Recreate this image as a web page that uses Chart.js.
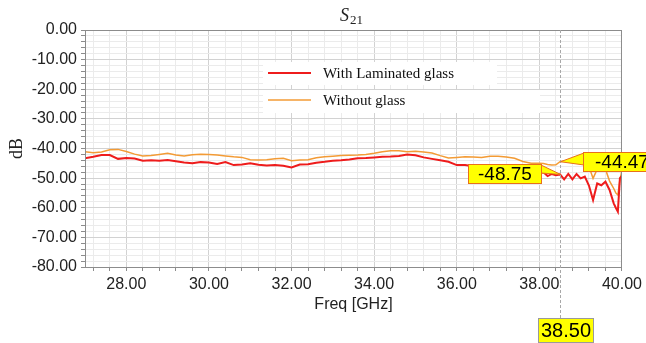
<!DOCTYPE html>
<html lang="en">
<head>
  <meta charset="UTF-8" />
  <title>S21</title>
  <style>
    body { margin: 0; background: #fff; }
    #wrap { width: 646px; height: 343px; position: relative; }
  </style>
</head>
<body>
<div id="wrap"><canvas id="s21Chart"></canvas></div>

<script src="https://cdn.jsdelivr.net/npm/chart.js"></script>
<script>
  // frequency points (GHz)
  const freqs = [27.0, 27.2, 27.4, 27.6, 27.8, 28.0, 28.2, 28.4, 28.6, 28.8,
    29.0, 29.2, 29.4, 29.6, 29.8, 30.0, 30.2, 30.4, 30.6, 30.8,
    31.0, 31.2, 31.4, 31.6, 31.8, 32.0, 32.2, 32.4, 32.6, 32.8,
    33.0, 33.2, 33.4, 33.6, 33.8, 34.0, 34.2, 34.4, 34.6, 34.8,
    35.0, 35.2, 35.4, 35.6, 35.8, 36.0, 36.2, 36.4, 36.6, 36.8,
    37.0, 37.2, 37.4, 37.6, 37.8, 38.0, 38.1, 38.2, 38.3, 38.4,
    38.5, 38.6, 38.7, 38.8, 38.9, 39.0, 39.1, 39.2, 39.3, 39.4,
    39.5, 39.6, 39.7, 39.8, 39.85, 39.9, 39.95, 40.0];

  // S21 with laminated glass (dB)
  const laminated = [-43.3, -42.8, -42.2, -42.2, -43.5, -43.2, -43.4, -44.1, -44.0, -44.1,
    -43.9, -44.3, -44.7, -45.0, -44.6, -44.7, -45.2, -44.6, -45.6, -45.4,
    -45.0, -45.5, -45.7, -45.6, -45.8, -46.4, -45.4, -45.3, -44.8, -44.5,
    -44.1, -44.0, -43.7, -43.3, -43.2, -43.0, -42.8, -42.7, -42.5, -42.0,
    -42.3, -43.0, -43.5, -44.0, -44.5, -45.6, -45.6, -46.0, -46.3, -46.5,
    -46.8, -47.0, -47.3, -47.5, -47.8, -48.3, -48.0, -49.3, -48.6, -49.0,
    -48.75, -50.4, -48.6, -50.4, -48.6, -50.1, -49.5, -52.5, -57.4, -51.8,
    -52.4, -51.2, -54.0, -58.5, -60.0, -61.3, -50.0, -49.3];

  // S21 without glass (dB)
  const noGlass = [-41.1, -41.4, -41.2, -40.4, -40.3, -41.0, -41.9, -42.5, -42.4, -42.0,
    -41.6, -42.2, -42.5, -42.1, -41.9, -42.0, -42.2, -42.5, -42.8, -43.0,
    -43.8, -43.9, -43.8, -43.5, -43.3, -44.1, -43.9, -43.8, -43.1, -42.8,
    -42.6, -42.4, -42.3, -42.2, -42.0, -41.6, -41.1, -40.8, -40.8, -41.1,
    -40.9, -41.2, -41.5, -42.4, -43.2, -43.0, -42.8, -42.9, -43.0, -42.6,
    -42.6, -42.9, -43.3, -44.4, -45.0, -45.0, -45.1, -45.4, -45.6, -45.5,
    -44.47, -44.2, -44.5, -44.6, -44.8, -44.8, -45.3, -46.0, -50.1, -47.0,
    -46.7, -47.0, -51.0, -53.5, -55.0, -55.7, -50.5, -47.5];

  const seriesNames = ['With Laminated glass', 'Without glass'];
  const seriesColors = ['#ee1c1c', '#f39b35'];

  // marker at 38.50 GHz
  const markerFreq = 38.5;
  const markerValues = [-48.75, -44.47];

  const toXY = (ys) => ys.map((y, i) => ({ x: freqs[i], y: y }));

  // custom drawing: title, frame, legend, markers
  const extras = {
    id: 'extras',
    beforeDatasetsDraw(chart) {
      const c = chart.ctx;
      // legend backgrounds
      c.save();
      c.fillStyle = '#ffffff';
      c.fillRect(263, 62, 234, 23);
      c.fillRect(263, 90, 277, 23);
      c.restore();
    },
    afterDatasetsDraw(chart) {
      const c = chart.ctx, a = chart.chartArea;
      const xs = chart.scales.x, ys = chart.scales.y;
      c.save();

      // frame
      c.strokeStyle = '#8c8c8c';
      c.lineWidth = 1;
      c.strokeRect(a.left + 0.5, a.top + 0.5, a.right - a.left - 1, a.bottom - a.top);

      // title S21
      c.fillStyle = '#222';
      c.textBaseline = 'alphabetic';
      c.font = 'italic 18px "Liberation Serif"';
      c.fillText('S', 340, 21);
      c.font = '13px "Liberation Serif"';
      c.fillText('21', 350, 24);

      // legend
      c.font = '15px "Liberation Serif"';
      c.textBaseline = 'middle';
      seriesNames.forEach((name, i) => {
        const y = 73 + i * 27;
        c.strokeStyle = seriesColors[i];
        c.lineWidth = i === 0 ? 2 : 1.5;
        c.beginPath();
        c.moveTo(268, y);
        c.lineTo(311, y);
        c.stroke();
        c.fillStyle = '#111';
        c.fillText(name, 323, y + 1);
      });

      // marker line
      const mx = Math.round(xs.getPixelForValue(markerFreq)) + 0.5;
      c.strokeStyle = '#a8a8a8';
      c.lineWidth = 1;
      c.setLineDash([3, 2]);
      c.beginPath();
      c.moveTo(mx, a.top);
      c.lineTo(mx, 318);
      c.stroke();
      c.setLineDash([]);

      // x marker label
      c.fillStyle = '#ffff00';
      c.fillRect(538, 318, 56, 25);
      c.strokeStyle = '#9a9a9a';
      c.strokeRect(538.5, 318.5, 55, 24);
      c.fillStyle = '#000';
      c.font = '20px "Liberation Sans"';
      c.textAlign = 'center';
      c.fillText(markerFreq.toFixed(2), 566, 331);

      // callouts
      c.font = '19px "Liberation Sans"';
      const yRed = ys.getPixelForValue(markerValues[0]);
      const yOr = ys.getPixelForValue(markerValues[1]);
      const callout = (bx, by, bw, bh, tri, text, tx) => {
        c.fillStyle = '#ffff00';
        c.strokeStyle = '#e8701a';
        c.lineWidth = 1;
        c.beginPath();
        c.moveTo(tri[0][0], tri[0][1]);
        c.lineTo(tri[1][0], tri[1][1]);
        c.lineTo(tri[2][0], tri[2][1]);
        c.closePath();
        c.fill();
        c.stroke();
        c.fillRect(bx, by, bw, bh);
        c.strokeRect(bx + 0.5, by + 0.5, bw - 1, bh - 1);
        c.fillStyle = '#000';
        c.textAlign = 'left';
        c.fillText(text, tx, by + bh / 2 + 1);
      };
      callout(468, 164, 74, 20, [[541, 165], [541, 173], [mx, yRed]], markerValues[0].toFixed(2), 478);
      callout(583, 152, 70, 20, [[584, 153], [584, 165], [mx, yOr]], markerValues[1].toFixed(2), 595);

      c.restore();
    }
  };

  const ctx = document.getElementById('s21Chart').getContext('2d');
  new Chart(ctx, {
    type: 'line',
    data: {
      datasets: [{
        label: seriesNames[0],
        data: toXY(laminated),
        borderColor: seriesColors[0],
        borderWidth: 2,
        pointRadius: 0,
        tension: 0
      }, {
        label: seriesNames[1],
        data: toXY(noGlass),
        borderColor: seriesColors[1],
        borderWidth: 1.5,
        pointRadius: 0,
        tension: 0
      }]
    },
    options: {
      responsive: true,
      maintainAspectRatio: false,
      animation: false,
      layout: { padding: { top: 30, right: 21, left: 0, bottom: 0 } },
      plugins: {
        legend: { display: false },
        tooltip: { enabled: false }
      },
      scales: {
        x: {
          type: 'linear',
          min: 27,
          max: 40,
          afterBuildTicks(scale) {
            const t = [];
            for (let v = 27.2; v <= 40.001; v += 0.4) t.push({ value: Math.round(v * 10) / 10 });
            scale.ticks = t;
          },
          afterFit(scale) { scale.height = 76; },
          grid: {
            color: (g) => (g.tick && Math.abs(g.tick.value % 2) < 1e-6) ? '#d2d2d2' : '#ebebeb',
            tickColor: '#8c8c8c',
            tickLength: 4,
            drawTicks: true
          },
          border: { color: '#8c8c8c' },
          ticks: {
            autoSkip: false,
            maxRotation: 0,
            padding: 4,
            color: '#222',
            font: { family: 'Liberation Sans', size: 16 },
            callback: (v) => (Math.abs(v % 2) < 1e-6) ? v.toFixed(2) : ''
          },
          title: {
            display: true,
            text: 'Freq [GHz]',
            color: '#222',
            font: { family: 'Liberation Sans', size: 16 },
            padding: { top: 2, bottom: 29 }
          }
        },
        y: {
          min: -80,
          max: 0,
          afterBuildTicks(scale) {
            const t = [];
            for (let v = -80; v <= 0; v += 2) t.push({ value: v });
            scale.ticks = t;
          },
          afterFit(scale) { scale.width = 85; },
          grid: {
            color: (g) => (g.tick && g.tick.value % 10 === 0) ? '#d2d2d2' : '#ebebeb',
            tickColor: '#8c8c8c',
            tickLength: 4
          },
          border: { color: '#8c8c8c' },
          ticks: {
            autoSkip: false,
            padding: 4,
            color: '#222',
            font: { family: 'Liberation Sans', size: 16 },
            callback: (v) => (v % 10 === 0) ? v.toFixed(2) : ''
          },
          title: {
            display: true,
            text: 'dB',
            color: '#222',
            font: { family: 'Liberation Serif', size: 18 },
            padding: { top: 6, bottom: 0 }
          }
        }
      }
    },
    plugins: [extras]
  });
</script>
</body>
</html>
